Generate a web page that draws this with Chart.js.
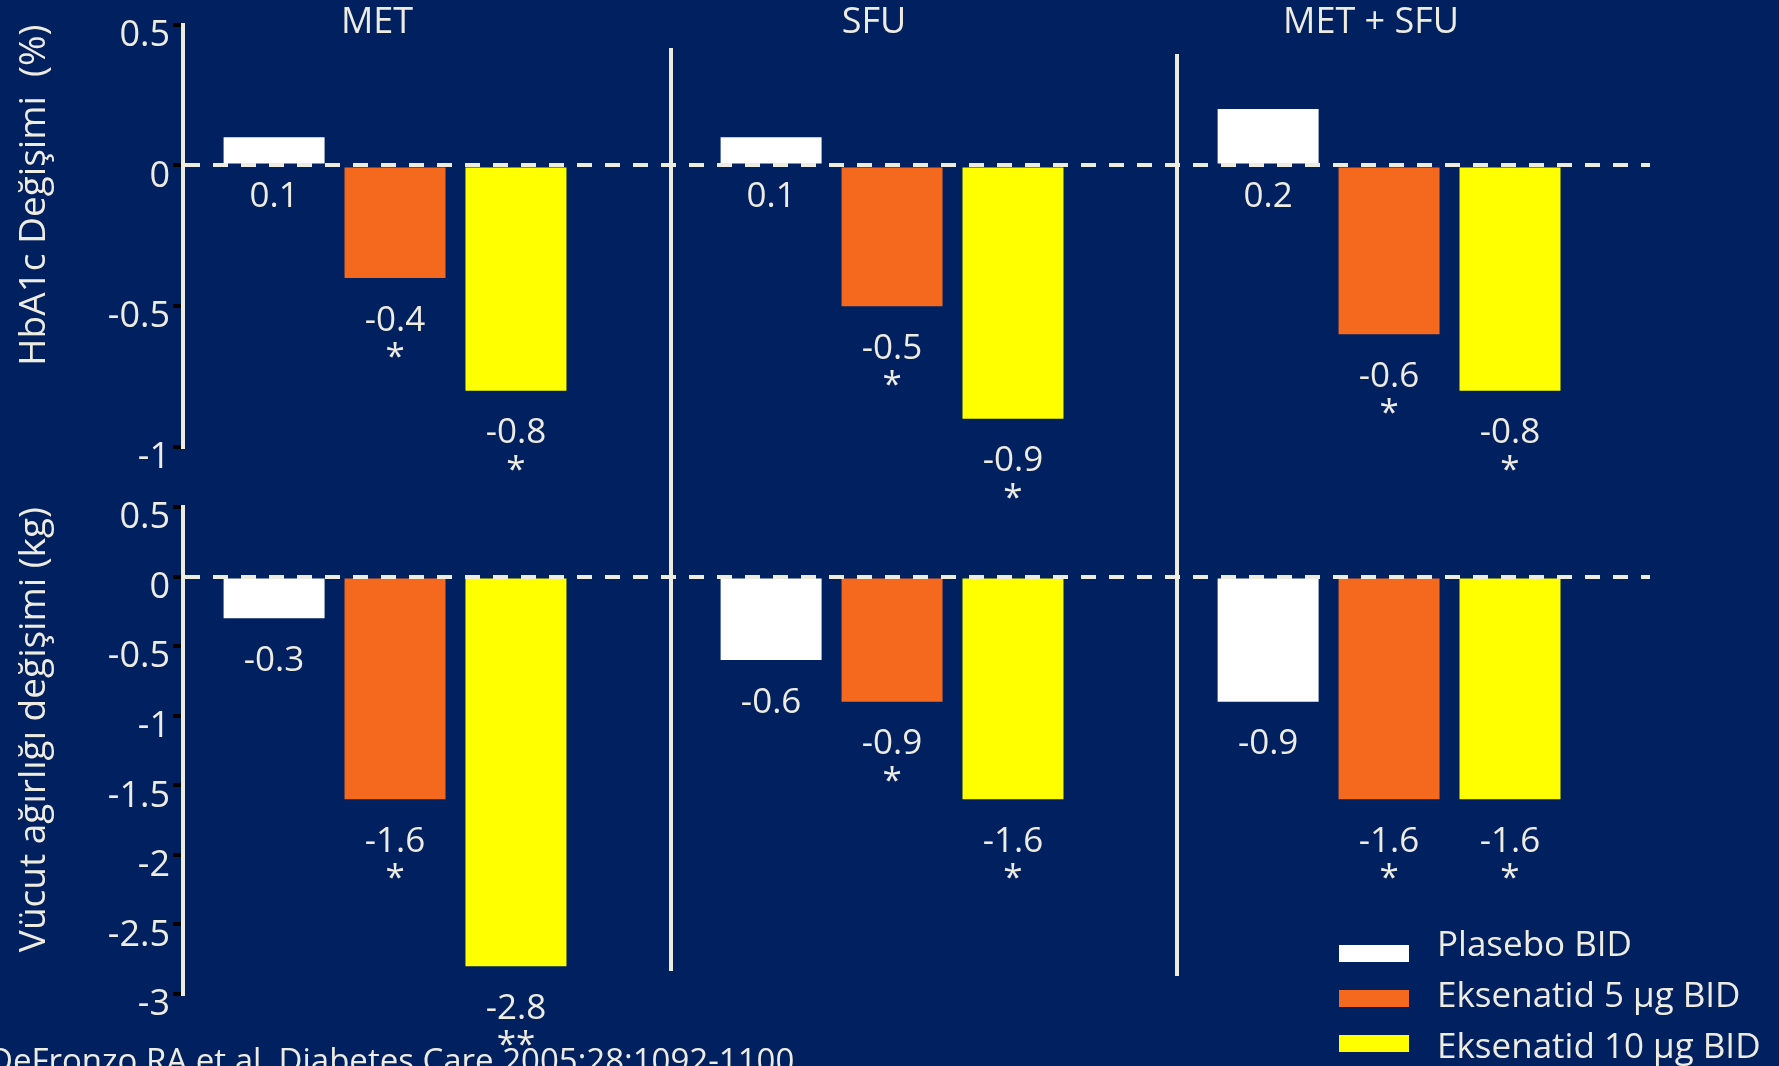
<!DOCTYPE html>
<html lang="tr">
<head>
<meta charset="utf-8">
<title>Eksenatid: HbA1c ve vücut ağırlığı değişimi</title>
<script src="https://cdn.jsdelivr.net/npm/chart.js@4.4.1/dist/chart.umd.min.js"></script>
<style>
  html, body { margin: 0; padding: 0; background: #002060; }
  #wrap { position: relative; width: 1779px; height: 1066px; overflow: hidden; background: #002060; }
  #wrap canvas { position: absolute; left: 0; top: 0; }
</style>
</head>
<body>
<div id="wrap">
  <canvas id="hba1c" width="1779" height="1066"></canvas>
  <canvas id="weight" width="1779" height="1066"></canvas>
</div>
<script>
// Treatment groups and series
const groups = ['MET', 'SFU', 'MET + SFU'];
const seriesNames = ['Plasebo BID', 'Eksenatid 5 µg BID', 'Eksenatid 10 µg BID'];

// HbA1c change (%)
const hba1cPlacebo = [0.1, 0.1, 0.2];
const hba1cEks5 = [-0.4, -0.5, -0.6];
const hba1cEks10 = [-0.8, -0.9, -0.8];
const hba1cMarks = [['', '', ''], ['*', '*', '*'], ['*', '*', '*']];
const hba1cTicks = [0.5, 0, -0.5, -1];

// Body weight change (kg)
const weightPlacebo = [-0.3, -0.6, -0.9];
const weightEks5 = [-1.6, -0.9, -1.6];
const weightEks10 = [-2.8, -1.6, -1.6];
const weightMarks = [['', '', ''], ['*', '*', '*'], ['**', '*', '*']];
const weightTicks = [0.5, 0, -0.5, -1, -1.5, -2, -2.5, -3];

const sourceNote = 'DeFronzo RA et al. Diabetes Care 2005;28:1092-1100';

// Styling
const TEXT = '#EEECE1';
const LINE = '#EEECE1';
const COLORS = ['#FFFFFF', '#F4691E', '#FFFF00'];
const FONT = '"Open Sans", "Noto Sans", sans-serif';

Chart.defaults.font.family = FONT;
Chart.defaults.color = TEXT;

function toPoints(values) {
  return values.map((v, i) => ({ x: i, y: v }));
}

function makeDatasets(p, e5, e10) {
  return [p, e5, e10].map((vals, k) => ({
    label: seriesNames[k],
    data: toPoints(vals),
    backgroundColor: COLORS[k],
    borderWidth: 0,
    categoryPercentage: 0.73,
    barPercentage: 0.835
  }));
}

// Shared group axis: one unit per treatment group
function xScale() {
  return {
    type: 'linear',
    display: false,
    offset: false,
    min: -0.4266,
    max: 2.525,
    afterBuildTicks: s => { s.ticks = groups.map((g, i) => ({ value: i })); },
    grid: { display: false, drawTicks: false, offset: false },
    border: { display: false }
  };
}

function yScale(tickValues, titleText) {
  return {
    type: 'linear',
    position: 'left',
    min: Math.min(...tickValues),
    max: Math.max(...tickValues),
    afterBuildTicks: s => { s.ticks = tickValues.map(v => ({ value: v })); },
    afterFit: s => { s.width = 183; },
    grid: {
      drawOnChartArea: true,
      drawTicks: true,
      tickLength: 10,
      tickWidth: 4,
      tickColor: '#000000',
      color: c => (c.tick && c.tick.value === 0) ? LINE : 'rgba(0,0,0,0)',
      lineWidth: 4,
      z: 1
    },
    border: { display: true, color: LINE, width: 4, dash: [15, 13], z: 2 },
    ticks: {
      callback: v => String(v),
      font: { size: 36 },
      color: TEXT,
      padding: 3,
      labelOffset: 11
    },
    title: {
      display: true,
      text: titleText,
      align: 'end',
      color: TEXT,
      font: { size: 37 },
      padding: { top: 12, bottom: 0 }
    }
  };
}

// Value and significance labels under each bar
function valueLabels(marks) {
  return {
    id: 'valueLabels',
    afterDatasetsDraw(chart) {
      const ctx = chart.ctx;
      ctx.save();
      ctx.fillStyle = TEXT;
      ctx.textAlign = 'center';
      ctx.textBaseline = 'alphabetic';
      chart.data.datasets.forEach((ds, di) => {
        const meta = chart.getDatasetMeta(di);
        meta.data.forEach((bar, i) => {
          const v = ds.data[i].y;
          const centre = v < 0 ? bar.y + 40 : bar.base + 31;
          ctx.font = '35px ' + FONT;
          ctx.fillText(v.toFixed(1), bar.x, centre + 12.5);
          const m = marks[di][i];
          if (m) ctx.fillText(m, bar.x, centre + 29 + 21);
        });
      });
      ctx.restore();
    }
  };
}

// Group names above the upper panel
const groupTitles = {
  id: 'groupTitles',
  afterDraw(chart) {
    const ctx = chart.ctx;
    const x = chart.scales.x;
    ctx.save();
    ctx.font = '36px ' + FONT;
    ctx.fillStyle = TEXT;
    ctx.textAlign = 'center';
    ctx.textBaseline = 'alphabetic';
    groups.forEach((g, i) => ctx.fillText(g, x.getPixelForValue(i) - 18, 33));
    ctx.restore();
  }
};

// Group dividers, legend and source line
const decorations = {
  id: 'decorations',
  afterDraw(chart) {
    const ctx = chart.ctx;
    const x = chart.scales.x;
    ctx.save();

    ctx.strokeStyle = LINE;
    ctx.lineWidth = 4;
    [[0.555, 48, 971], [1.573, 54, 976]].forEach(([pos, top, bottom]) => {
      const px = Math.round(x.getPixelForValue(pos));
      ctx.beginPath();
      ctx.moveTo(px, top);
      ctx.lineTo(px, bottom);
      ctx.stroke();
    });

    ctx.font = '35px ' + FONT;
    ctx.textAlign = 'left';
    ctx.textBaseline = 'alphabetic';
    chart.data.datasets.forEach((ds, i) => {
      ctx.fillStyle = ds.backgroundColor;
      ctx.fillRect(1339, 945 + i * 45, 70, 17);
      ctx.fillStyle = TEXT;
      ctx.fillText(ds.label, 1437, 956 + i * 51);
    });

    ctx.font = '33px ' + FONT;
    ctx.fillStyle = TEXT;
    ctx.fillText(sourceNote, -11, 1072);
    ctx.restore();
  }
};

function baseOptions(padding) {
  return {
    responsive: false,
    devicePixelRatio: 1,
    animation: false,
    events: [],
    layout: { padding },
    plugins: { legend: { display: false }, tooltip: { enabled: false } }
  };
}

const topOpts = baseOptions({ top: 24, left: 0, right: 129, bottom: 619 });
topOpts.scales = { x: xScale(), y: yScale(hba1cTicks, 'HbA1c Değişimi  (%)') };

new Chart(document.getElementById('hba1c'), {
  type: 'bar',
  data: { datasets: makeDatasets(hba1cPlacebo, hba1cEks5, hba1cEks10) },
  options: topOpts,
  plugins: [valueLabels(hba1cMarks), groupTitles]
});

const bottomOpts = baseOptions({ top: 507, left: 0, right: 129, bottom: 72 });
bottomOpts.scales = { x: xScale(), y: yScale(weightTicks, 'Vücut ağırlığı değişimi (kg)') };

new Chart(document.getElementById('weight'), {
  type: 'bar',
  data: { datasets: makeDatasets(weightPlacebo, weightEks5, weightEks10) },
  options: bottomOpts,
  plugins: [valueLabels(weightMarks), decorations]
});
</script>
</body>
</html>
